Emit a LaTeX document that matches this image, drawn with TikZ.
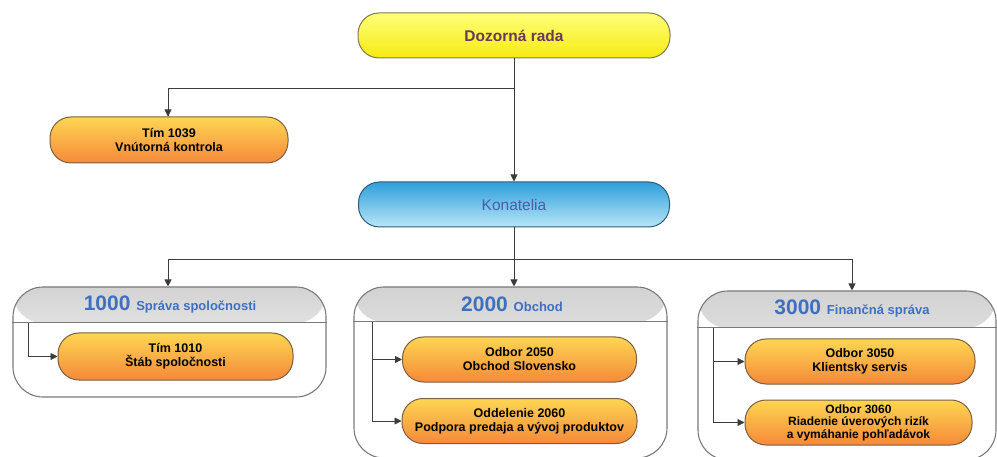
\documentclass[tikz,border=0pt]{standalone}
\usepackage{fontspec}
\setmainfont{Liberation Sans}
\usetikzlibrary{arrows.meta}
\definecolor{linec}{HTML}{3C3C3C}
\definecolor{orgtop}{HTML}{FDD652}
\definecolor{orgbot}{HTML}{F5893A}
\definecolor{orgedge}{HTML}{7A6040}
\definecolor{yeltop}{HTML}{FFFF7A}
\definecolor{yelbot}{HTML}{F6EA10}
\definecolor{yeledge}{HTML}{7E7A50}
\definecolor{blutop}{HTML}{2E9FDB}
\definecolor{blubot}{HTML}{B8E6F7}
\definecolor{bluedge}{HTML}{2C5C78}
\definecolor{bluetxt}{HTML}{3F6FC0}
\definecolor{kontxt}{HTML}{4C5CA8}
\definecolor{dztxt}{HTML}{6A3858}
\definecolor{contedge}{HTML}{7A7A7A}
\tikzset{
  pill/.style={draw, line width=1pt, rounded corners=21pt, inner sep=0pt, align=center,
    font=\fontsize{12.5}{14}\selectfont\bfseries},
  orangebox/.style={pill, draw=orgedge, top color=orgtop, bottom color=orgbot},
  yellowbox/.style={pill, draw=yeledge, top color=yeltop, bottom color=yelbot,
    font=\fontsize{15.5}{17}\selectfont\bfseries, text=dztxt},
  bluebox/.style={pill, draw=bluedge, top color=blutop, bottom color=blubot,
    font=\fontsize{15.5}{17}\selectfont, text=kontxt},
  container/.style={draw=contedge, line width=1.1pt, fill=white, rounded corners=30pt, inner sep=0pt},
  conn/.style={draw=linec, line width=0.9pt, -{Triangle[length=7pt,width=7pt]}},
  plainline/.style={draw=linec, line width=0.9pt},
  hline/.style={draw=contedge, line width=1.1pt},
  ttl/.style={text=bluetxt, font=\bfseries, inner sep=0pt}
}
\begin{document}
\begin{tikzpicture}[x=1pt,y=-1pt]
\clip (0,0) rectangle (997,457);
\fill[white] (0,0) rectangle (997,457);

% top level
\node[yellowbox, minimum width=312pt, minimum height=45pt] (dr) at (514,35.5) {Dozorná rada};
\node[orangebox, minimum width=238pt, minimum height=46pt] (t1039) at (169,140) {Tím 1039\\Vnútorná kontrola};
\node[bluebox, minimum width=311pt, minimum height=45pt] (kon) at (514,204.5) {Konatelia};

% containers
\node[container, minimum width=313pt, minimum height=110pt,
  path picture={\fill[top color=gray!35, bottom color=white]
    (path picture bounding box.north west) rectangle ([yshift=-36pt]path picture bounding box.north east);}]
  (c1) at (169.5,342) {};
\node[container, minimum width=313pt, minimum height=171pt,
  path picture={\fill[top color=gray!35, bottom color=white]
    (path picture bounding box.north west) rectangle ([yshift=-35pt]path picture bounding box.north east);}]
  (c2) at (510.5,372.5) {};
\node[container, minimum width=298pt, minimum height=169pt,
  path picture={\fill[top color=gray!35, bottom color=white]
    (path picture bounding box.north west) rectangle ([yshift=-37pt]path picture bounding box.north east);}]
  (c3) at (847,375.5) {};

\draw[hline] ([yshift=-36pt]c1.north west) -- ([yshift=-36pt]c1.north east);
\draw[hline] ([yshift=-35pt]c2.north west) -- ([yshift=-35pt]c2.north east);
\draw[hline] ([yshift=-37pt]c3.north west) -- ([yshift=-37pt]c3.north east);

\node[ttl] (ttl1) at (170,305) {\fontsize{21}{22}\selectfont 1000 \fontsize{13}{14}\selectfont Správa spoločnosti};
\node[ttl] (ttl2) at (512,304) {\fontsize{21}{22}\selectfont 2000 \fontsize{13}{14}\selectfont Obchod};
\node[ttl] (ttl3) at (852,309) {\fontsize{21}{22}\selectfont 3000 \fontsize{13}{14}\selectfont Finančná správa};

% inner boxes
\node[orangebox, minimum width=235pt, minimum height=47pt] (t1010) at (175.5,356.5) {Tím 1010\\Štáb spoločnosti};
\node[orangebox, minimum width=234pt, minimum height=45pt] (o2050) at (519.5,359.5) {Odbor 2050\\Obchod Slovensko};
\node[orangebox, minimum width=235pt, minimum height=45pt] (o2060) at (519.5,421) {Oddelenie 2060\\Podpora predaja a vývoj produktov};
\node[orangebox, minimum width=230pt, minimum height=45pt] (o3050) at (860,361.5) {Odbor 3050\\Klientsky servis};
\node[orangebox, minimum width=227pt, minimum height=45pt,
  font=\fontsize{12}{12.5}\selectfont\bfseries] (o3060) at (858.5,422.5) {Odbor 3060\\Riadenie úverových rizík\\a vymáhanie pohľadávok};

% connectors
\coordinate (j1) at (514,88);
\coordinate (j2) at (514,259);
\draw[conn] (dr.south) -- (kon.north);
\draw[plainline] (j1) -| ([xshift=-1pt]t1039.north);
\draw[conn] ([xshift=-1pt]t1039.north |- j1) -- ([xshift=-1pt]t1039.north);
\draw[conn] (kon.south) -- (kon.south |- c2.north);
\draw[conn] (j2) -| ([xshift=-1.5pt]c1.north);
\draw[conn] (j2) -| ([xshift=5pt]c3.north);

\coordinate (h1) at (28,323);
\coordinate (h2) at (372,322);
\coordinate (h3) at (713,328);
\draw[conn] (h1) |- (t1010.west);
\draw[conn] (h2) |- (o2050.west);
\draw[conn] (h2) |- (o2060.west);
\draw[conn] (h3) |- (o3050.west);
\draw[conn] (h3) |- (o3060.west);
\end{tikzpicture}
\end{document}
